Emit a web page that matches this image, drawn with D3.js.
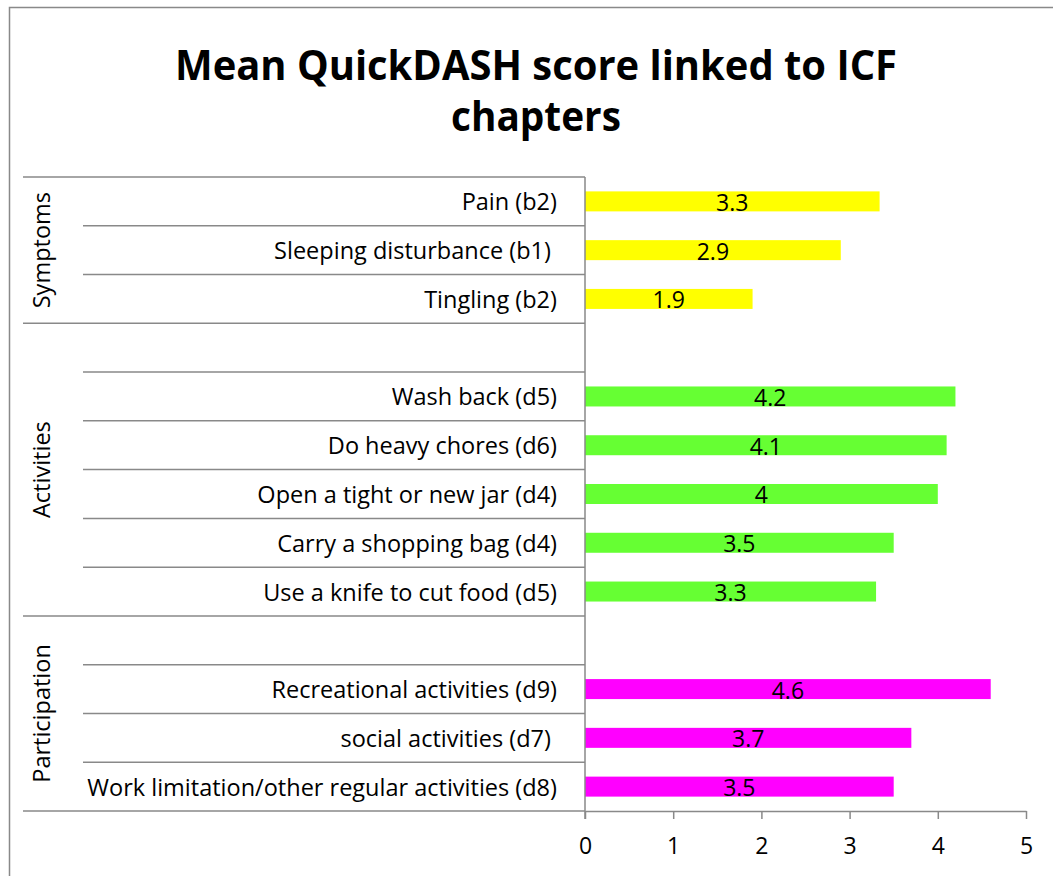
<!DOCTYPE html>
<html>
<head>
<meta charset="utf-8">
<script src="https://cdn.jsdelivr.net/npm/d3@7"></script>
<style>
  body { margin: 0; background: #fff; }
  svg { font-family: "Open Sans", sans-serif; }
</style>
</head>
<body>
<svg id="chart" width="1053" height="876"></svg>
<script>
// rows from top to bottom, "" marks the empty spacer rows
const categories = [
    "Pain (b2)", "Sleeping disturbance (b1) ", "Tingling (b2)",
    "", "Wash back (d5)", "Do heavy chores (d6)", "Open a tight or new jar (d4)",
    "Carry a shopping bag (d4)", "Use a knife to cut food (d5)",
    "", "Recreational activities (d9)", "social activities (d7) ",
    "Work limitation/other regular activities (d8)"
];
const rowGroup = [0, 0, 0, 1, 1, 1, 1, 1, 1, 2, 2, 2, 2];
const values = [3.34, 2.9, 1.9, null, 4.2, 4.1, 4.0, 3.5, 3.3, null, 4.6, 3.7, 3.5];
const valueLabels = ["3.3", "2.9", "1.9", "", "4.2", "4.1", "4", "3.5", "3.3", "", "4.6", "3.7", "3.5"];
const groups = ["Symptoms", "Activities", "Participation"];
const groupColors = ["#ffff00", "#66ff33", "#ff00ff"];
const xTicks = [0, 1, 2, 3, 4, 5];

const svg = d3.select("#chart");
const axisColor = "#898989";

// outer chart border
svg.append("rect")
    .attr("x", 9.5).attr("y", 7.5)
    .attr("width", 1060).attr("height", 880)
    .attr("fill", "none")
    .attr("stroke", axisColor)
    .attr("stroke-width", 1.5);

// title
const title = svg.append("g").attr("font-weight", "bold").attr("text-anchor", "middle");
title.append("text")
    .attr("x", 536).attr("y", 80)
    .attr("font-size", 41)
    .attr("textLength", 722).attr("lengthAdjust", "spacingAndGlyphs")
    .text("Mean QuickDASH score linked to ICF");
title.append("text")
    .attr("x", 536).attr("y", 131)
    .attr("font-size", 41)
    .attr("textLength", 170).attr("lengthAdjust", "spacingAndGlyphs")
    .text("chapters");

const x = d3.scaleLinear().domain([0, 5]).range([585, 1026]);
const y = d3.scaleBand().domain(d3.range(categories.length)).range([177, 811]);
const step = y.step();
const barH = step * 0.41;

// row separator lines in the label area
const rows = d3.range(categories.length);
svg.append("g").selectAll("line")
    .data(rows.slice(1))
    .join("line")
    .attr("x1", function(i) { return rowGroup[i] != rowGroup[i - 1] ? 23 : 83; })
    .attr("x2", x(0))
    .attr("y1", function(i) { return y(i); })
    .attr("y2", function(i) { return y(i); })
    .attr("stroke", axisColor)
    .attr("stroke-width", 1.5);

// top and bottom group lines
svg.append("g").selectAll("line")
    .data([177, 811])
    .join("line")
    .attr("x1", 23).attr("x2", x(0))
    .attr("y1", function(d) { return d; }).attr("y2", function(d) { return d; })
    .attr("stroke", axisColor)
    .attr("stroke-width", 1.5);

// bars
svg.append("g").selectAll("rect")
    .data(rows.filter(function(i) { return values[i] != null; }))
    .join("rect")
    .attr("x", x(0))
    .attr("y", function(i) { return y(i) + (step - barH) / 2; })
    .attr("width", function(i) { return x(values[i]) - x(0); })
    .attr("height", barH)
    .attr("fill", function(i) { return groupColors[rowGroup[i]]; });

// value labels
svg.append("g").selectAll("text")
    .data(rows.filter(function(i) { return values[i] != null; }))
    .join("text")
    .attr("x", function(i) { return (x(0) + x(values[i])) / 2; })
    .attr("y", function(i) { return y(i) + (step + barH) / 2 - 0.5; })
    .attr("text-anchor", "middle")
    .attr("font-size", 23)
    .text(function(i) { return valueLabels[i]; });

// category labels
svg.append("g").selectAll("text")
    .data(rows)
    .join("text")
    .attr("x", 557)
    .attr("y", function(i) { return y(i) + step / 2 + 9; })
    .attr("text-anchor", "end")
    .attr("font-size", 23.5)
    .style("white-space", "pre")
    .text(function(i) { return categories[i]; });

// group labels, rotated
svg.append("g").selectAll("text")
    .data(groups)
    .join("text")
    .attr("transform", function(d, g) {
        const idx = rows.filter(function(i) { return rowGroup[i] == g; });
        const cy = (y(idx[0]) + y(idx[idx.length - 1]) + step) / 2;
        return "translate(50," + cy + ") rotate(-90)";
    })
    .attr("text-anchor", "middle")
    .attr("font-size", 23.5)
    .text(function(d) { return d; });

// y axis line
svg.append("line")
    .attr("x1", x(0)).attr("x2", x(0))
    .attr("y1", 177).attr("y2", 819)
    .attr("stroke", axisColor)
    .attr("stroke-width", 1.5);

// x axis
const xAxis = svg.append("g")
    .attr("transform", "translate(0,811)")
    .call(d3.axisBottom(x).tickValues(xTicks).tickFormat(d3.format("d")).tickSize(8).tickSizeOuter(0));
xAxis.select(".domain").attr("stroke", axisColor).attr("stroke-width", 1.5);
xAxis.selectAll(".tick line").attr("stroke", axisColor).attr("stroke-width", 1.5);
xAxis.selectAll(".tick text")
    .attr("font-family", "Open Sans, sans-serif")
    .attr("font-size", 23)
    .attr("fill", "#000")
    .attr("dy", null)
    .attr("y", 43);
</script>
</body>
</html>
